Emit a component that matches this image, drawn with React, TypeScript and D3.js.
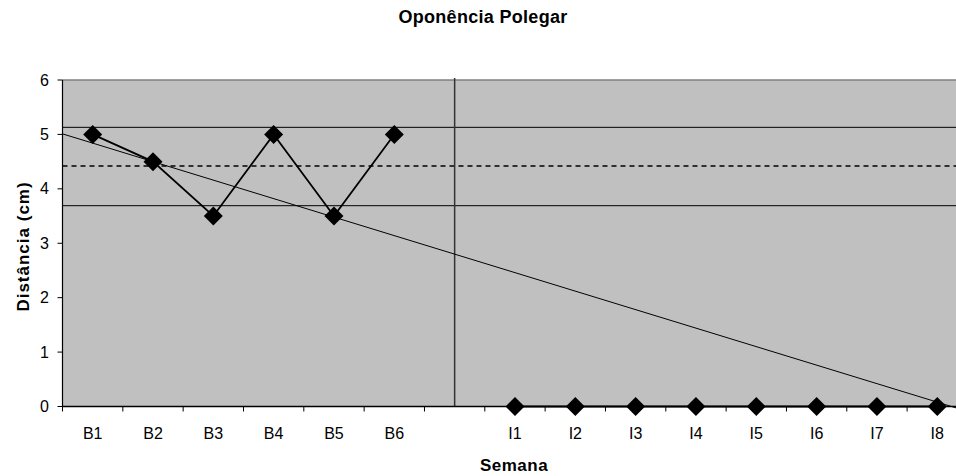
import React from "react";
import * as d3 from "d3";

const categories = ["B1", "B2", "B3", "B4", "B5", "B6", "", "I1", "I2", "I3", "I4", "I5", "I6", "I7", "I8"];
const baselineCats = ["B1", "B2", "B3", "B4", "B5", "B6"];
const baselineValues = [5, 4.5, 3.5, 5, 3.5, 5];
const interventionCats = ["I1", "I2", "I3", "I4", "I5", "I6", "I7", "I8"];
const interventionValues = [0, 0, 0, 0, 0, 0, 0, 0];
const yTicks = [0, 1, 2, 3, 4, 5, 6];
const meanLine = 4.42;
const sdLines = [5.13, 3.69];
const trendCats = ["B1", "I8"];
const trendValues = [4.84, 0.08];
const phaseDividerCat = "";

const W = 956;
const H = 476;
const left = 62.5;
const band = 60.33;
const top = 80;
const bottom = 406.5;
const font = "'Liberation Sans', Arial, sans-serif";

export default function App() {
  const x = d3.scaleBand<string>().domain(categories).range([left, left + band * categories.length]).padding(0);
  const y = d3.scaleLinear().domain([0, 6]).range([bottom, top]);
  const cx = (c: string) => (x(c) as number) + x.bandwidth() / 2;
  const right = left + band * categories.length;

  const line = d3.line<[number, number]>().x((d) => d[0]).y((d) => d[1]);
  const bPts: [number, number][] = baselineCats.map((c, i) => [cx(c), y(baselineValues[i])]);
  const iPts: [number, number][] = interventionCats.map((c, i) => [cx(c), y(interventionValues[i])]);

  const tx0 = cx(trendCats[0]);
  const tx1 = cx(trendCats[1]);
  const slope = (trendValues[1] - trendValues[0]) / (tx1 - tx0);
  const tv = (px: number) => trendValues[0] + slope * (px - tx0);
  const trendPts: [number, number][] = [
    [left, y(tv(left))],
    [right, y(tv(right))],
  ];

  const diamond = (p: [number, number], k: number) => {
    const r = 9.5;
    return (
      <path
        key={k}
        d={`M${p[0]},${p[1] - r}L${p[0] + r},${p[1]}L${p[0]},${p[1] + r}L${p[0] - r},${p[1]}Z`}
        fill="#000"
      />
    );
  };

  const divX = cx(phaseDividerCat);
  const boundaries = d3.range(categories.length + 1).map((i) => left + i * x.bandwidth());

  return (
    <svg width={W} height={H} style={{ position: "absolute", left: 0, top: 0 }} fontFamily={font}>
      <rect x={0} y={0} width={W} height={H} fill="#fff" />
      <text x={483} y={23} textAnchor="middle" fontSize={18} fontWeight="bold" letterSpacing={0.3} fill="#000">
        Oponência Polegar
      </text>
      <rect x={left} y={top} width={right - left} height={bottom - top} fill="#C0C0C0" />
      <line x1={left} x2={right} y1={top} y2={top} stroke="#808080" strokeWidth={1.5} />
      {sdLines.map((v, i) => (
        <line key={i} x1={left} x2={right} y1={y(v)} y2={y(v)} stroke="#000" strokeWidth={1} />
      ))}
      <line x1={left} x2={right} y1={y(meanLine)} y2={y(meanLine)} stroke="#000" strokeWidth={1.5} strokeDasharray="5,4" />
      <line x1={divX} x2={divX} y1={top - 2} y2={bottom} stroke="#333" strokeWidth={1.5} />
      <path d={line(trendPts) as string} stroke="#000" strokeWidth={1} fill="none" />
      <path d={line(bPts) as string} stroke="#000" strokeWidth={1.8} fill="none" />
      <path d={line(iPts) as string} stroke="#000" strokeWidth={1.8} fill="none" />
      <line x1={left} x2={left} y1={top} y2={bottom} stroke="#000" strokeWidth={1.2} />
      <line x1={left} x2={right} y1={bottom} y2={bottom} stroke="#000" strokeWidth={1.5} />
      {yTicks.map((t) => (
        <g key={t}>
          <line x1={left - 5} x2={left} y1={y(t)} y2={y(t)} stroke="#000" />
          <text x={49} y={y(t) + 5.5} textAnchor="end" fontSize={16} fill="#000">
            {t}
          </text>
        </g>
      ))}
      {boundaries.map((b, i) => (
        <line key={i} x1={b} x2={b} y1={bottom} y2={bottom + 5} stroke="#000" />
      ))}
      {categories.map((c, i) =>
        c ? (
          <text key={i} x={cx(c)} y={439} textAnchor="middle" fontSize={16} fill="#000">
            {c}
          </text>
        ) : null
      )}
      {bPts.map((p, i) => diamond(p, i))}
      {iPts.map((p, i) => diamond(p, 100 + i))}
      <text x={514} y={471} textAnchor="middle" fontSize={17} fontWeight="bold" letterSpacing={0.5} fill="#000">
        Semana
      </text>
      <text
        transform={`translate(${29},${246.5}) rotate(-90)`}
        textAnchor="middle"
        fontSize={17}
        fontWeight="bold"
        letterSpacing={1}
        fill="#000"
      >
        Distância (cm)
      </text>
    </svg>
  );
}
